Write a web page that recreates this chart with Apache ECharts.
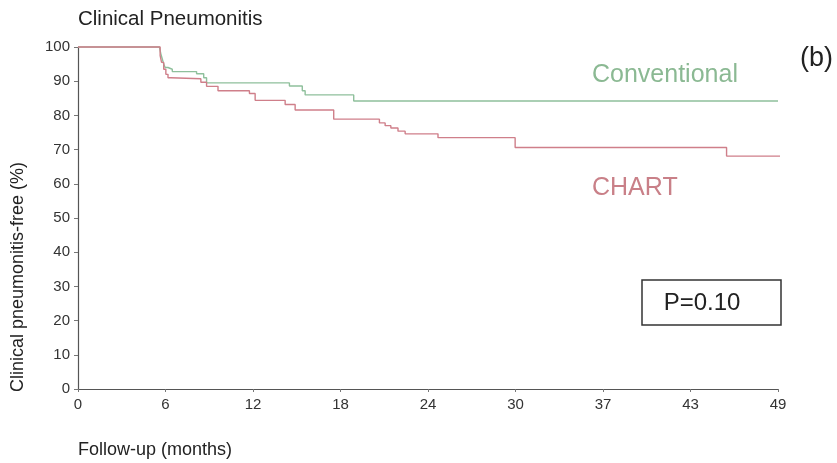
<!DOCTYPE html>
<html><head><meta charset="utf-8">
<script src="https://cdn.jsdelivr.net/npm/echarts@6/dist/echarts.min.js"></script>
<style>html,body{margin:0;padding:0;background:#fff}#c{width:837px;height:463px}</style>
</head><body><div id="c"></div>
<script>
var xTickLabels = ['0','6','12','18','24','30','37','43','49'];
var yTicks = [0,10,20,30,40,50,60,70,80,90,100];
var conventionalTimes = [0,5.7,5.8,5.9,6.0,6.1,6.3,6.6,8.3,8.8,9.0,14.8,15.7,15.9,19.3,49.0];
var conventionalValues = [100,100,98,96.5,95,94,93.5,92.8,92.2,91,89.5,88.6,87.2,86,84.2,84.2];
var chartTimes = [0,5.6,5.75,5.85,6.0,6.15,6.3,6.5,8.6,9.0,9.8,12.0,12.4,14.5,15.2,17.9,21.1,21.5,21.9,22.4,22.9,25.2,30.6,45.4,50.4];
var chartValues = [100,100,97.5,95.5,93.5,92,91,90.7,89.7,88.5,87.2,86.4,84.4,83.2,81.6,78.9,77.8,77,76.3,75.4,74.6,73.5,70.6,68.1,68.1];

function pairs(t, v){ return t.map(function(x,i){ return [x, v[i]]; }); }
var FONT = '"Liberation Sans", Arial, sans-serif';
var chart = echarts.init(document.getElementById('c'));
chart.setOption({
  animation: false,
  backgroundColor: '#ffffff',
  grid: { left: 78, right: 59, top: 47, bottom: 74, outerBoundsMode: 'none' },
  xAxis: {
    type: 'value', min: 0, max: 49, interval: 49/8,
    axisLine: { lineStyle: { color: '#555', width: 1.2 } },
    axisTick: { show: true, length: 3, lineStyle: { color: '#777' } },
    splitLine: { show: false },
    axisLabel: { color: '#333', fontSize: 15, fontFamily: FONT, margin: 8,
      formatter: function(v){ return xTickLabels[Math.round(v/(49/8))]; } }
  },
  yAxis: {
    type: 'value', min: yTicks[0], max: yTicks[yTicks.length-1], interval: 10,
    axisLine: { show: true, lineStyle: { color: '#555', width: 1.2 } },
    axisTick: { show: true, length: 4, lineStyle: { color: '#777' } },
    splitLine: { show: false },
    axisLabel: { color: '#333', fontSize: 15, fontFamily: FONT, margin: 8 }
  },
  series: [
    { type: 'line', step: 'end', symbol: 'none', clip: false,
      data: pairs(conventionalTimes, conventionalValues),
      lineStyle: { color: '#8fc09c', width: 1.4 } },
    { type: 'line', step: 'end', symbol: 'none', clip: false,
      data: pairs(chartTimes, chartValues),
      lineStyle: { color: '#cf7f8a', width: 1.4 } }
  ],
  graphic: [
    { type: 'text', left: 78, top: 9, style: { text: 'Clinical Pneumonitis', fill: '#222', font: '20.5px ' + FONT } },
    { type: 'text', left: 78, top: 441, style: { text: 'Follow-up (months)', fill: '#222', font: '18px ' + FONT } },
    { type: 'text', x: 18, y: 277, rotation: Math.PI/2,
      style: { text: 'Clinical pneumonitis-free (%)', fill: '#222', font: '18px ' + FONT, align: 'center', verticalAlign: 'middle' } },
    { type: 'text', left: 592, top: 63, style: { text: 'Conventional', fill: '#8bb993', font: '25px ' + FONT } },
    { type: 'text', left: 592, top: 176, style: { text: 'CHART', fill: '#c98088', font: '25px ' + FONT } },
    { type: 'text', left: 800, top: 45, style: { text: '(b)', fill: '#222', font: '27px ' + FONT } },
    { type: 'rect', shape: { x: 642, y: 280, width: 139, height: 45 }, style: { fill: 'none', stroke: '#333', lineWidth: 1.5 } },
    { type: 'text', x: 702, y: 303, style: { text: 'P=0.10', fill: '#222', font: '24px ' + FONT, align: 'center', verticalAlign: 'middle' } }
  ]
});
</script></body></html>
